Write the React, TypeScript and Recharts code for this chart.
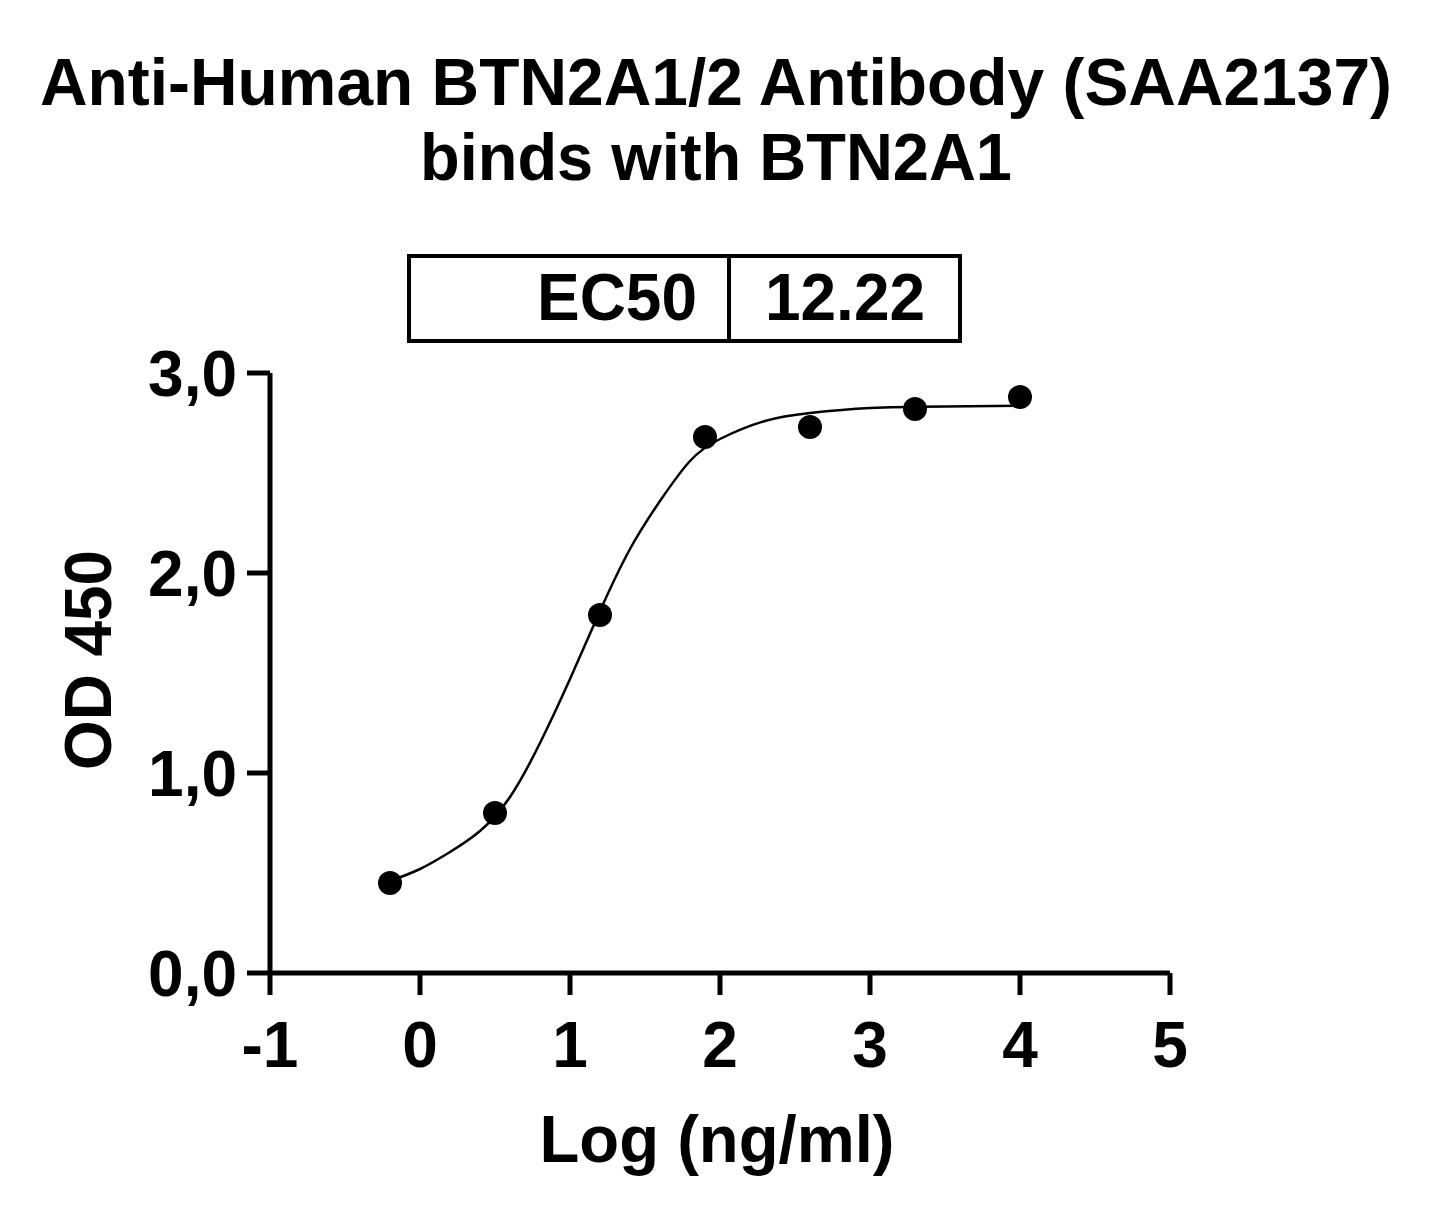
import React from 'react';
import { ComposedChart, Line, Scatter, XAxis, YAxis } from 'recharts';

const titleLines = ['Anti-Human BTN2A1/2 Antibody (SAA2137)', 'binds with BTN2A1'];
const ec50Label = 'EC50';
const ec50Value = '12.22';
const xAxisTitle = 'Log (ng/ml)';
const yAxisTitle = 'OD 450';

const xTicks = [-1, 0, 1, 2, 3, 4, 5];
const yTicks = [0, 1, 2, 3];

const pointX = [-0.2, 0.5, 1.2, 1.9, 2.6, 3.3, 4.0];
const pointY = [0.45, 0.80, 1.79, 2.68, 2.73, 2.82, 2.88];

const curveX = [-0.2, 0, 0.2, 0.4, 0.6, 0.8, 1.0, 1.2, 1.4, 1.6, 1.8, 2.0, 2.3, 2.6, 3.0, 3.5, 4.0];
const curveY = [0.46, 0.52, 0.605, 0.71, 0.88, 1.15, 1.47, 1.81, 2.12, 2.36, 2.56, 2.67, 2.76, 2.80, 2.825, 2.833, 2.836];

const points = pointX.map((x, i) => ({ x, y: pointY[i] }));
const curve = curveX.map((x, i) => ({ x, y: curveY[i] }));

const FONT = '"Liberation Sans", Arial, Helvetica, sans-serif';

const Dot = (props: any) => {
  const { cx, cy } = props;
  return <circle cx={cx} cy={cy} r={12} fill="#000" />;
};

export default function App() {
  const W = 1423;
  const H = 1204;
  return (
    <div style={{ position: 'relative', width: W, height: H, background: '#fff' }}>
      <ComposedChart
        width={W}
        height={H}
        margin={{ top: 365, right: 261, bottom: 179, left: 142 }}
      >
        <XAxis
          type="number"
          dataKey="x"
          domain={[-1, 5]}
          ticks={xTicks}
          allowDataOverflow
          axisLine={{ stroke: '#000', strokeWidth: 5 }}
          tickLine={{ stroke: '#000', strokeWidth: 5 }}
          tickSize={22}
          tickMargin={27}
          height={60}
          tick={{ fill: '#000', fontSize: 64, fontWeight: 'bold', fontFamily: FONT }}
        />
        <YAxis
          type="number"
          dataKey="y"
          domain={[0, 3]}
          ticks={yTicks}
          allowDataOverflow
          width={120}
          axisLine={{ stroke: '#000', strokeWidth: 5 }}
          tickLine={{ stroke: '#000', strokeWidth: 5 }}
          tickSize={23}
          tickMargin={10}
          tickFormatter={(v: number) => v.toFixed(1).replace('.', ',')}
          tick={{ fill: '#000', fontSize: 64, fontWeight: 'bold', fontFamily: FONT }}
        />
        <Line
          data={curve}
          dataKey="y"
          type="natural"
          stroke="#000"
          strokeWidth={2.5}
          dot={false}
          activeDot={false}
          isAnimationActive={false}
        />
        <Scatter data={points} dataKey="y" fill="#000" shape={<Dot />} isAnimationActive={false} />
      </ComposedChart>
      <svg
        width={W}
        height={H}
        style={{ position: 'absolute', left: 0, top: 0, pointerEvents: 'none' }}
      >
        <g fontFamily={FONT} fontWeight="bold" fill="#000">
          <text x={708} y={97} fontSize={66} textAnchor="middle" textLength={1352} lengthAdjust="spacingAndGlyphs">
            {titleLines[0]}
          </text>
          <text x={708} y={172} fontSize={66} textAnchor="middle" textLength={592} lengthAdjust="spacingAndGlyphs">
            {titleLines[1]}
          </text>
          <rect x={401} y={248} width={551} height={85} fill="none" stroke="#000" strokeWidth={4} />
          <line x1={721} y1={248} x2={721} y2={333} stroke="#000" strokeWidth={4} />
          <text x={689} y={312} fontSize={66} textAnchor="end" textLength={160} lengthAdjust="spacingAndGlyphs">
            {ec50Label}
          </text>
          <text x={837} y={312} fontSize={66} textAnchor="middle" textLength={160} lengthAdjust="spacingAndGlyphs">
            {ec50Value}
          </text>
          <text x={709} y={1154} fontSize={66} textAnchor="middle" textLength={355} lengthAdjust="spacingAndGlyphs">
            {xAxisTitle}
          </text>
          <text
            x={0}
            y={0}
            fontSize={66}
            textAnchor="middle"
            textLength={220}
            lengthAdjust="spacingAndGlyphs"
            transform="translate(103,652) rotate(-90)"
          >
            {yAxisTitle}
          </text>
        </g>
      </svg>
    </div>
  );
}
